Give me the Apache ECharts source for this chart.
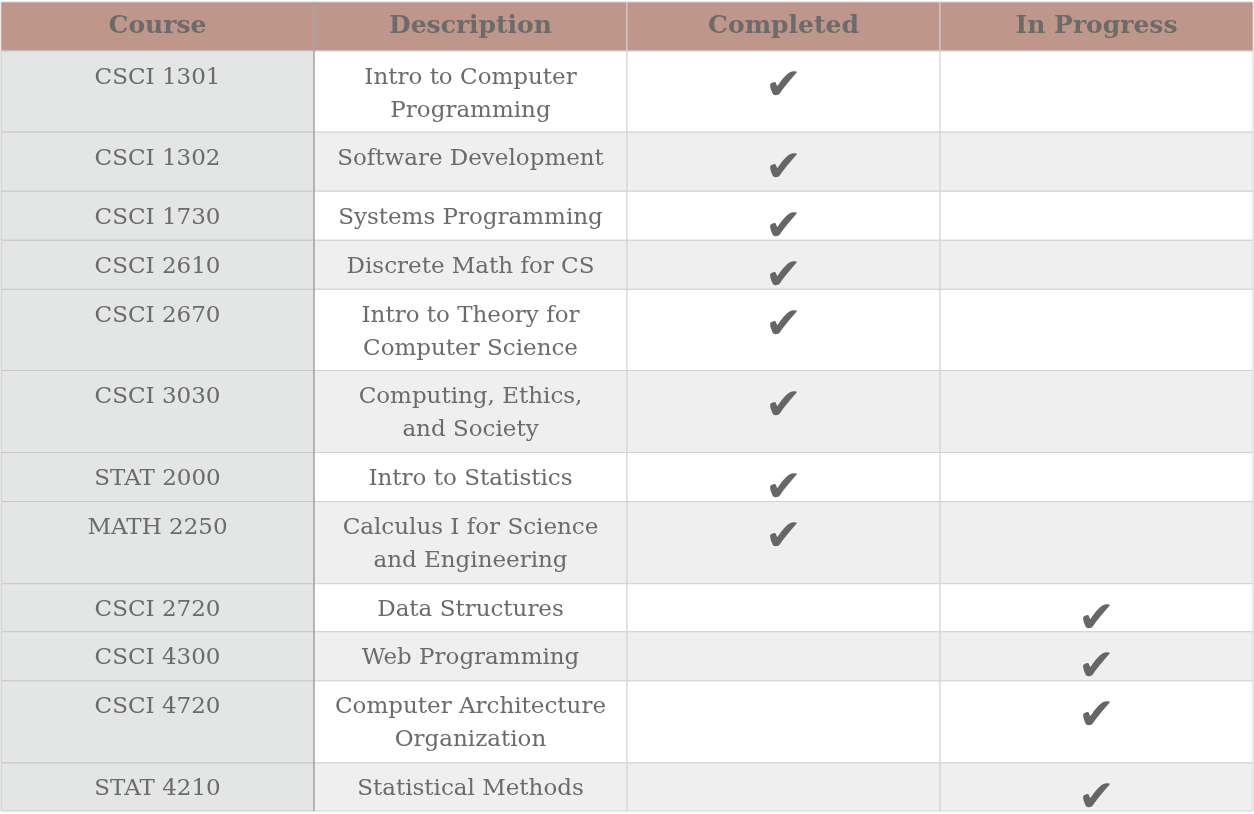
<!DOCTYPE html>
<html><head><meta charset="utf-8">
<script src="https://cdn.jsdelivr.net/npm/echarts@6/dist/echarts.min.js"></script>
<style>html,body{margin:0;padding:0;background:#fff}#main{width:1254px;height:814px}</style>
</head><body><div id="main"></div>
<script>
var headers = ['Course', 'Description', 'Completed', 'In Progress'];
var courses = ['CSCI 1301','CSCI 1302','CSCI 1730','CSCI 2610','CSCI 2670','CSCI 3030','STAT 2000','MATH 2250','CSCI 2720','CSCI 4300','CSCI 4720','STAT 4210'];
var descriptions = ['Intro to Computer\nProgramming','Software Development','Systems Programming','Discrete Math for CS','Intro to Theory for\nComputer Science','Computing, Ethics,\nand Society','Intro to Statistics','Calculus I for Science\nand Engineering','Data Structures','Web Programming','Computer Architecture\nOrganization','Statistical Methods'];
var completed = [1,1,1,1,1,1,1,1,0,0,0,0];
var inProgress = [0,0,0,0,0,0,0,0,1,1,1,1];
// row heights (header first)
var rowHeights = [49, 81, 59, 49, 49, 81, 82, 49, 82, 48, 49, 82, 48];

var rowTops = [0];
rowHeights.forEach(function (h, i) { rowTops.push(rowTops[i] + h); });
var total = rowTops[rowTops.length - 1];

var cells = [];
for (var c = 0; c < 4; c++) cells.push([c, 0]);
courses.forEach(function (name, i) {
  for (var c = 0; c < 4; c++) cells.push([c, i + 1]);
});

var font = '"DejaVu Serif", serif';
function renderItem(params, api) {
  var col = api.value(0), row = api.value(1);
  var p0 = api.coord([col, rowTops[row]]);
  var p1 = api.coord([col + 1, rowTops[row + 1]]);
  var x = p0[0], y = p0[1], w = p1[0] - p0[0], h = p1[1] - p0[1];
  var fill;
  if (row === 0) fill = '#bf968a';
  else if (col === 0) fill = '#e4e5e5';
  else fill = row % 2 === 1 ? '#ffffff' : '#efefef';
  var children = [{
    type: 'rect', shape: { x: x, y: y, width: w, height: h },
    style: { fill: fill, stroke: col === 0 && row > 0 ? '#c9c9c9' : '#d2d2d2', lineWidth: 1 }
  }];
  var txt = '', style = { fill: '#6b6b6b', font: '23px ' + font, align: 'center', verticalAlign: 'top', lineHeight: 33 };
  var ty = y + 10;
  if (row === 0) {
    txt = headers[col];
    style.font = 'bold 25px ' + font;
    style.verticalAlign = 'middle';
    ty = y + h / 2;
  } else {
    var i = row - 1;
    if (col === 0) txt = courses[i];
    else if (col === 1) txt = descriptions[i];
    else if ((col === 2 && completed[i]) || (col === 3 && inProgress[i])) {
      txt = '\u2714';
      style.font = '44px "DejaVu Sans"';
      style.fill = '#666666';
      style.lineHeight = 50;
      ty = y + 12;
    }
  }
  style.text = txt;
  style.x = x + w / 2; style.y = ty;
  children.push({ type: 'text', style: style });
  return { type: 'group', children: children };
}

var chart = echarts.init(document.getElementById('main'));
chart.setOption({
  animation: false,
  grid: { left: 1, right: 1, top: 2, bottom: 3 },
  xAxis: { type: 'value', min: 0, max: 4, show: false },
  yAxis: { type: 'value', min: 0, max: total, inverse: true, show: false },
  series: [{
    type: 'custom', renderItem: renderItem, data: cells,
    encode: { x: 0, y: 1 }, clip: false
  }, {
    type: 'custom',
    renderItem: function (params, api) {
      var p0 = api.coord([1, 0]), p1 = api.coord([1, total]);
      return { type: 'line', shape: { x1: p0[0], y1: p0[1], x2: p1[0], y2: p1[1] }, style: { stroke: '#8a8a8a', lineWidth: 1 } };
    },
    data: [[1, 0]]
  }]
});
</script></body></html>
